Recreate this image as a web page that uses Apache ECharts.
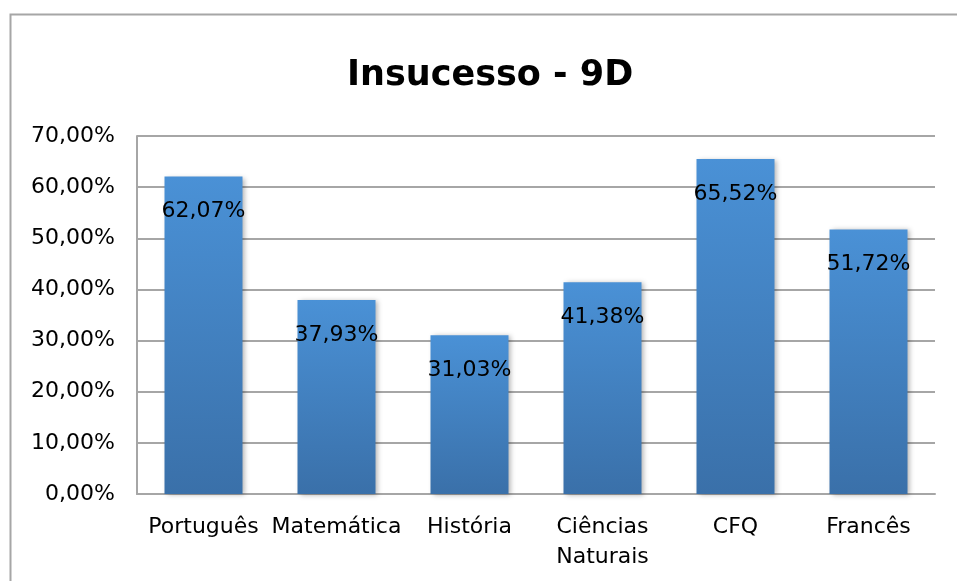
<!DOCTYPE html>
<html>
<head>
<meta charset="utf-8">
<script src="https://cdn.jsdelivr.net/npm/echarts@6/dist/echarts.min.js"></script>
<style>
    html, body { margin: 0; padding: 0; background: #fff; }
    #chart { width: 957px; height: 581px; }
</style>
</head>
<body>
<div id="chart"></div>
<script>
    let categories = ['Português', 'Matemática', 'História', 'Ciências\nNaturais', 'CFQ', 'Francês'];
    let values = [62.07, 37.93, 31.03, 41.38, 65.52, 51.72];
    let yTicks = [0, 10, 20, 30, 40, 50, 60, 70];

    function pct(v) {
        return v.toFixed(2).replace('.', ',') + '%';
    }

    let myChart = echarts.init(document.getElementById('chart'));
    let option = {
        backgroundColor: '#fff',
        animation: false,
        textStyle: { fontFamily: 'DejaVu Sans' },
        graphic: [{
            type: 'rect',
            shape: { x: 10.5, y: 14.5, width: 1000, height: 1000 },
            style: { fill: 'none', stroke: '#a6a6a6', lineWidth: 2 }
        }],
        title: {
            text: 'Insucesso - 9D',
            left: 342,
            top: 53,
            textStyle: { fontSize: 35, fontWeight: 'bold', color: '#000', fontFamily: 'DejaVu Sans' }
        },
        grid: { left: 137, right: 22, top: 136, bottom: 87 },
        xAxis: {
            type: 'category',
            data: categories,
            axisTick: { show: false },
            axisLine: { lineStyle: { color: '#a6a6a6', width: 2 } },
            axisLabel: { color: '#000', fontSize: 22, margin: 18, lineHeight: 30, interval: 0 }
        },
        yAxis: {
            type: 'value',
            min: yTicks[0],
            max: yTicks[yTicks.length - 1],
            interval: 10,
            axisLine: { show: true, lineStyle: { color: '#a6a6a6', width: 2 } },
            axisTick: { show: false },
            splitLine: { lineStyle: { color: '#a6a6a6', width: 2 } },
            axisLabel: { color: '#000', fontSize: 22, margin: 22, formatter: pct }
        },
        series: [{
            type: 'bar',
            data: values,
            barWidth: 78,
            itemStyle: {
                color: new echarts.graphic.LinearGradient(0, 0, 0, 1, [
                    { offset: 0, color: '#4a91d6' },
                    { offset: 1, color: '#3a70a9' }
                ]),
                shadowBlur: 5,
                shadowOffsetX: 2,
                shadowOffsetY: 1,
                shadowColor: 'rgba(0,0,0,0.3)'
            },
            label: {
                show: true,
                position: 'insideTop',
                distance: 24,
                color: '#000',
                fontSize: 22,
                formatter: p => pct(p.value)
            }
        }]
    };
    myChart.setOption(option);
</script>
</body>
</html>
